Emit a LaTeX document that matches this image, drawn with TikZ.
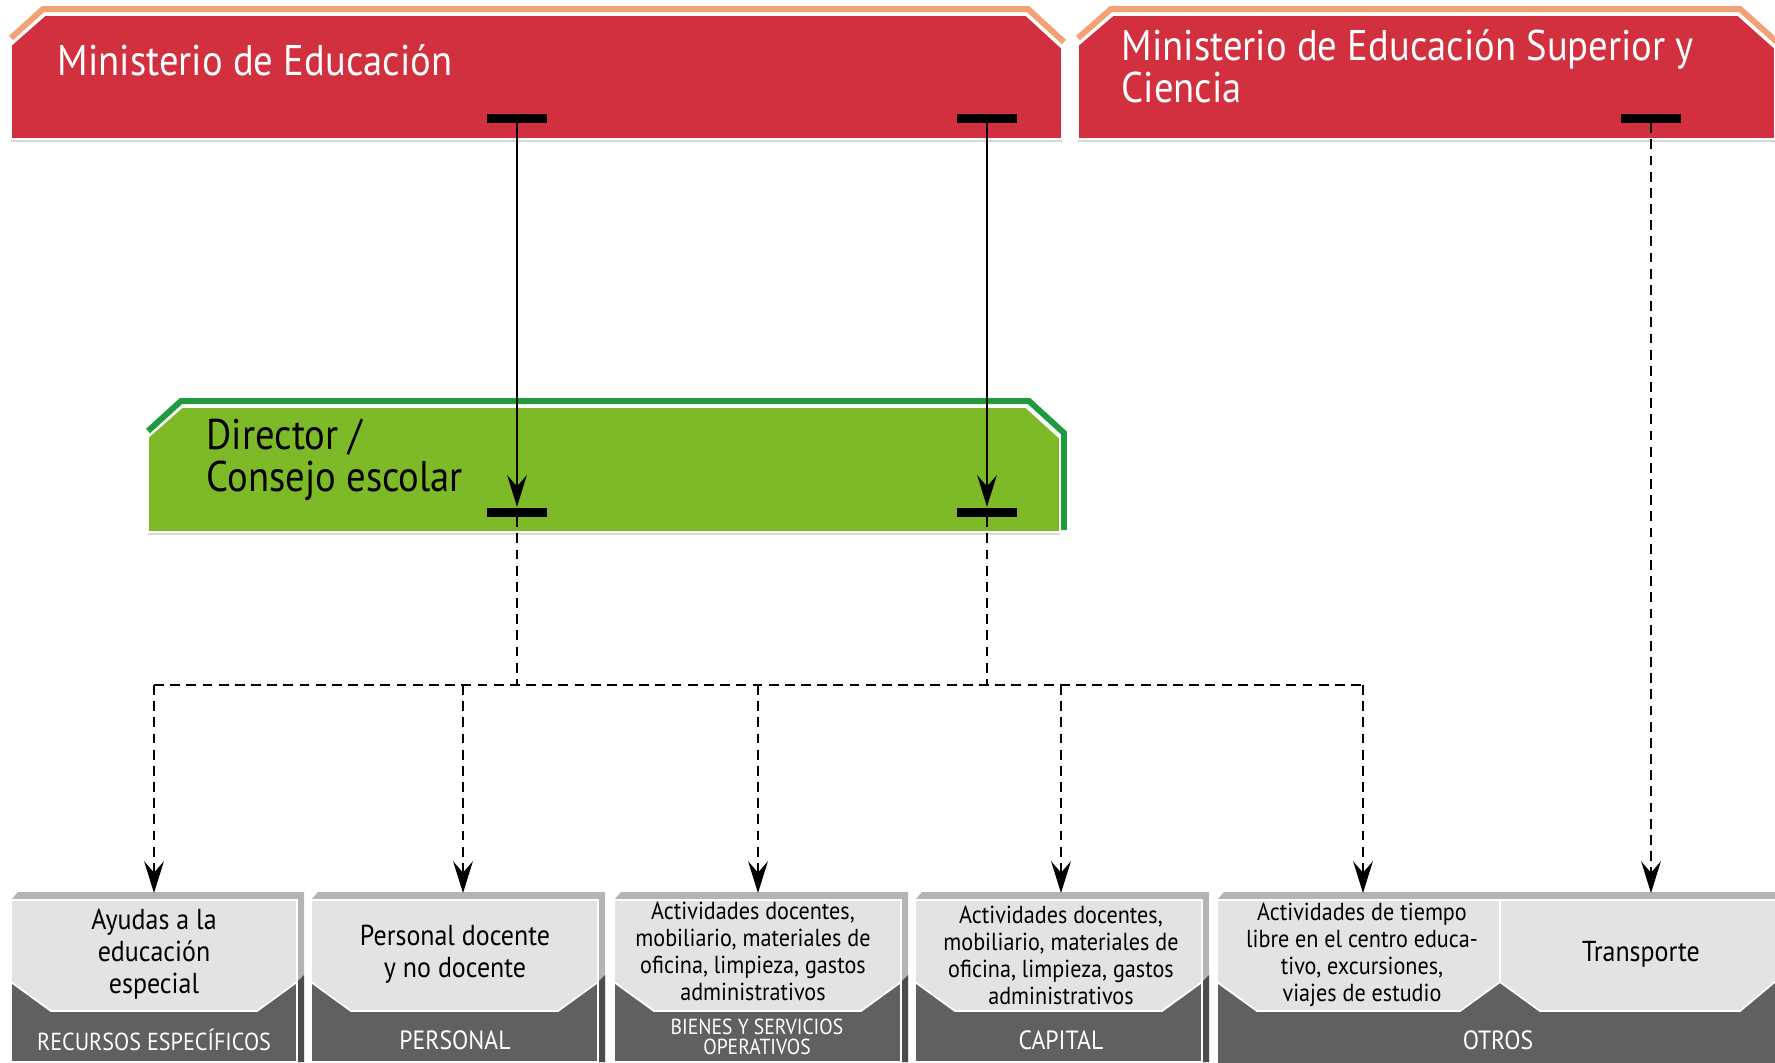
\documentclass[tikz,border=0pt]{standalone}
\usepackage{fontspec}
\setmainfont{PT Sans}[FakeStretch=0.9]
\usetikzlibrary{arrows.meta}
\definecolor{minred}{HTML}{D2303F}
\definecolor{minorange}{HTML}{F2A274}
\definecolor{dirgreen}{HTML}{7EBA28}
\definecolor{dirdark}{HTML}{1F9A3F}
\definecolor{facegray}{HTML}{E3E3E3}
\definecolor{basegray}{HTML}{606060}
\definecolor{sidegray}{HTML}{B4B4B4}
\definecolor{sidedark}{HTML}{4C4C4C}

\begin{document}
\begin{tikzpicture}[x=0.01cm,y=-0.01cm,
  bar/.style={fill=black,inner sep=0pt,minimum width=0.6cm,minimum height=0.09cm},
  flow/.style={line width=0.65pt,-{Stealth[length=9pt,width=5.6pt,inset=3.2pt]}},
  dashline/.style={line width=0.65pt,dash pattern=on 2.8pt off 1.8pt},
  dashflow/.style={dashline,-{Stealth[length=9pt,width=5.6pt,inset=3.2pt]}},
  headtext/.style={font=\fontsize{12.2}{12}\selectfont,align=left,anchor=west,inner sep=0pt},
  facetext/.style={font=\fontsize{8.2}{9.1}\selectfont,align=center,inner sep=0pt},
  smalltext/.style={font=\fontsize{7}{7.7}\selectfont,align=center,inner sep=0pt},
  basetext/.style={font=\fontsize{7.5}{7.5}\selectfont,text=white,align=center,inner sep=0pt}]
  \useasboundingbox (0,0) rectangle (1775,1062);

  % ministerios
  \draw[minorange,line width=1.7pt] (11,38) -- (43,9) -- (1028,9) -- (1064,42);
  \filldraw[minred,draw=white,line width=0.5pt] (11,45) -- (45,15) -- (1026,15) -- (1062,48) -- (1062,139) -- (11,139) -- cycle;
  \draw[minorange,line width=1.7pt] (1078,38) -- (1111,9) -- (1740,9) -- (1777,42);
  \filldraw[minred,draw=white,line width=0.5pt] (1078,45) -- (1113,15) -- (1738,15) -- (1775,48) -- (1775,139) -- (1078,139) -- cycle;
  \draw[black!15,line width=0.6pt] (11,141) -- (1062,141) (1078,141) -- (1775,141);
  \node[headtext,text=white] (med) at (57,60) {Ministerio de Educación};
  \node[headtext,text=white] (mesc) at (1121,66) {Ministerio de Educación Superior y\\Ciencia};

  % director
  \draw[dirdark,line width=1.7pt] (148,431) -- (181,401) -- (1029,401) -- (1064,433) -- (1064,530);
  \filldraw[dirgreen,draw=white,line width=0.5pt] (148,437) -- (182,407) -- (1026,407) -- (1060,438) -- (1060,532) -- (148,532) -- cycle;
  \draw[black!15,line width=0.6pt] (148,534) -- (1060,534);
  \node[headtext] (dir) at (206,460) {Director /\\Consejo escolar};

  % barras
  \node[bar] (barA) at (517,118) {};
  \node[bar] (barB) at (987,118) {};
  \node[bar] (barC) at (1651,118) {};
  \node[bar] (gbarA) at (517,512) {};
  \node[bar] (gbarB) at (987,512) {};

  % cajas de gasto
  \foreach \xa/\xb in {11/297,311/598,614/901,915/1202}{
    \fill[sidegray] (\xa,900) -- (\xa+7,892) -- (\xb+7,892) -- (\xb+7,1062) -- (\xb,1062) -- cycle;
    \fill[sidedark] (\xb,982) -- (\xb+7,975) -- (\xb+7,1062) -- (\xb,1062) -- cycle;
    \filldraw[basegray,draw=white,line width=0.5pt] (\xa,900) rectangle (\xb,1062);
    \filldraw[facegray,draw=white,line width=0.5pt] (\xa,900) -- (\xb,900) -- (\xb,982) -- (\xb-40,1011) -- (\xa+40,1011) -- (\xa,982) -- cycle;
  }
  \fill[sidegray] (1217,900) -- (1224,892) -- (1775,892) -- (1775,900) -- cycle;
  \filldraw[basegray,draw=white,line width=0.5pt] (1217,900) rectangle (1777,1064);
  \filldraw[facegray,draw=white,line width=0.5pt] (1217,900) -- (1500,900) -- (1500,982) -- (1460,1011) -- (1257,1011) -- (1217,982) -- cycle;
  \filldraw[facegray,draw=white,line width=0.5pt] (1500,900) -- (1777,900) -- (1777,980) -- (1740,1011) -- (1540,1011) -- (1500,982) -- cycle;

  \node[facetext] (ayudas) at (154,954) {Ayudas a la\\educación\\especial};
  \node[facetext] (personal) at (455,954) {Personal docente\\y no docente};
  \node[smalltext] (bienes) at (753,951) {Actividades docentes,\\mobiliario, materiales de\\oficina, limpieza, gastos\\administrativos};
  \node[smalltext] (capital) at (1061,955) {Actividades docentes,\\mobiliario, materiales de\\oficina, limpieza, gastos\\administrativos};
  \node[smalltext] (tiempo) at (1362,955) {Actividades de tiempo\\libre en el centro educa-\\tivo, excursiones,\\viajes de estudio};
  \node[facetext] (transporte) at (1641,954) {Transporte};

  \node[basetext,font=\fontsize{7}{7}\selectfont] at (154,1040) {RECURSOS ESPECÍFICOS};
  \node[basetext] at (455,1040) {PERSONAL};
  \node[basetext,font=\fontsize{6.2}{5.8}\selectfont] at (757,1037) {BIENES Y SERVICIOS\\OPERATIVOS};
  \node[basetext] at (1061,1040) {CAPITAL};
  \node[basetext] at (1498,1040) {OTROS};

  % conexiones
  \coordinate (jA) at (517,685);
  \coordinate (jB) at (987,685);
  \coordinate (j1) at (154,685);
  \coordinate (j2) at (463,685);
  \coordinate (j3) at (758,685);
  \coordinate (j4) at (1061,685);
  \coordinate (j5) at (1363,685);
  \coordinate (t1) at (154,893);
  \coordinate (t2) at (463,893);
  \coordinate (t3) at (758,893);
  \coordinate (t4) at (1061,893);
  \coordinate (t5) at (1363,893);
  \coordinate (t6) at (1651,893);

  \draw[flow] (barA) -- (gbarA.north);
  \draw[flow] (barB) -- (gbarB.north);
  \draw[dashline] (gbarA) -- (jA);
  \draw[dashline] (gbarB) -- (jB);
  \draw[dashline] (j1) -- (j5);
  \draw[dashflow] (j1) -- (t1);
  \draw[dashflow] (j2) -- (t2);
  \draw[dashflow] (j3) -- (t3);
  \draw[dashflow] (j4) -- (t4);
  \draw[dashflow] (j5) -- (t5);
  \draw[dashflow] (barC.south) -- (t6);
\end{tikzpicture}
\end{document}
